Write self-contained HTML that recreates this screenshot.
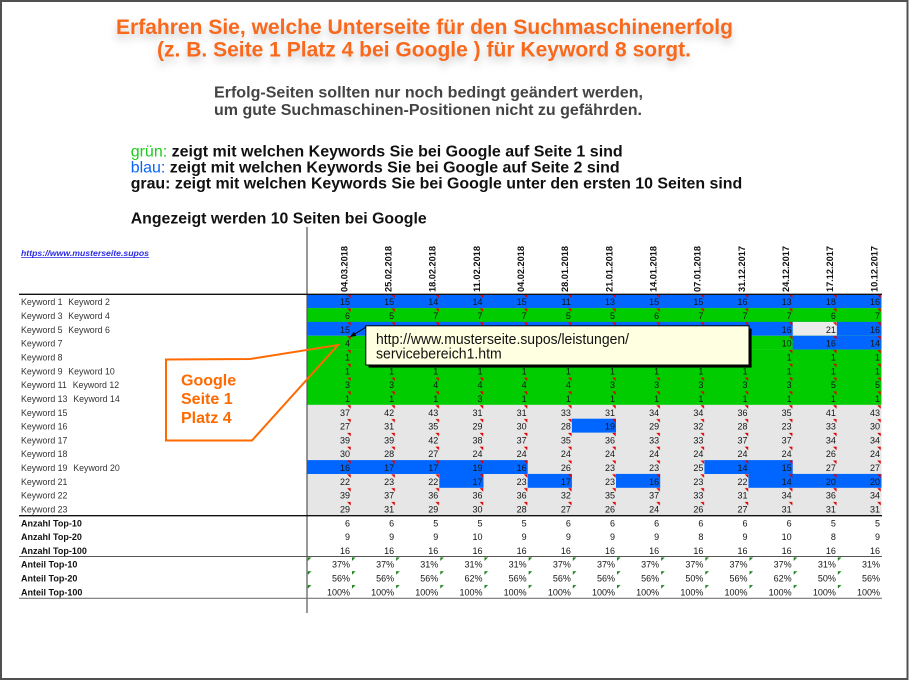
<!DOCTYPE html>
<html><head><meta charset="utf-8">
<style>
html,body{margin:0;padding:0;background:#fff;}
svg{display:block;}
</style></head>
<body>
<svg width="909" height="681" viewBox="0 0 909 681" xmlns="http://www.w3.org/2000/svg" font-family="'Liberation Sans', Arial, sans-serif">
<defs>
<filter id="sh" x="-5%" y="-60%" width="110%" height="240%">
<feGaussianBlur in="SourceAlpha" stdDeviation="4"/>
<feOffset dy="5" result="b"/>
<feFlood flood-color="#8a8a8a" flood-opacity="0.45"/>
<feComposite in2="b" operator="in"/>
<feMerge><feMergeNode/><feMergeNode in="SourceGraphic"/></feMerge>
</filter>
<pattern id="rm" patternUnits="userSpaceOnUse" x="306.8" y="294.3" width="44.17" height="13.82">
<polygon points="40.3,0.4 43.9,0.4 43.9,4" fill="#e00000"/>
</pattern>
<pattern id="gm" patternUnits="userSpaceOnUse" x="306.8" y="556.8" width="44.17" height="13.82">
<polygon points="1,0.6 4.6,0.6 1,4.2" fill="#1a7f1a"/>
</pattern>
</defs>
<rect x="0" y="0" width="909" height="681" fill="#fff"/>
<rect x="1" y="1" width="906.5" height="678" fill="none" stroke="#505050" stroke-width="2"/>

<!-- Title -->
<g filter="url(#sh)" fill="#f8691a" font-weight="bold" font-size="21">
<text x="116" y="34" textLength="617" lengthAdjust="spacingAndGlyphs">Erfahren Sie, welche Unterseite für den Suchmaschinenerfolg</text>
<text x="157" y="56.7" textLength="534" lengthAdjust="spacingAndGlyphs">(z. B. Seite 1 Platz 4 bei Google ) für Keyword 8 sorgt.</text>
</g>

<g font-weight="bold" font-size="16">
<text x="214" y="97.7" fill="#444" textLength="429" lengthAdjust="spacingAndGlyphs">Erfolg-Seiten sollten nur noch bedingt geändert werden,</text>
<text x="214" y="115" fill="#444" textLength="428" lengthAdjust="spacingAndGlyphs">um gute Suchmaschinen-Positionen nicht zu gefährden.</text>
<text x="130.7" y="156.7" fill="#111" textLength="492" lengthAdjust="spacingAndGlyphs"><tspan fill="#1ccc1c" font-weight="normal">grün:</tspan> zeigt mit welchen Keywords Sie bei Google auf Seite 1 sind</text>
<text x="130.7" y="172.7" fill="#111" textLength="489" lengthAdjust="spacingAndGlyphs"><tspan fill="#0a64f5" font-weight="normal">blau:</tspan> zeigt mit welchen Keywords Sie bei Google auf Seite 2 sind</text>
<text x="130.7" y="188.7" fill="#111" textLength="611.5" lengthAdjust="spacingAndGlyphs">grau: zeigt mit welchen Keywords Sie bei Google unter den ersten 10 Seiten sind</text>
<text x="130.7" y="223.3" fill="#111" textLength="296" lengthAdjust="spacingAndGlyphs">Angezeigt werden 10 Seiten bei Google</text>
</g>

<!-- URL -->
<text x="21" y="256" font-size="8" font-weight="bold" font-style="italic" fill="#2a2ae6" textLength="128" lengthAdjust="spacingAndGlyphs">https://www.musterseite.supos</text>
<line x1="21" y1="257.6" x2="149" y2="257.6" stroke="#2a2ae6" stroke-width="0.8"/>

<!-- Dates -->
<g font-size="9" font-weight="bold" fill="#111">
<text transform="translate(347.3,292) rotate(-90)" textLength="46" lengthAdjust="spacingAndGlyphs">04.03.2018</text>
<text transform="translate(391.5,292) rotate(-90)" textLength="46" lengthAdjust="spacingAndGlyphs">25.02.2018</text>
<text transform="translate(435.6,292) rotate(-90)" textLength="46" lengthAdjust="spacingAndGlyphs">18.02.2018</text>
<text transform="translate(479.8,292) rotate(-90)" textLength="46" lengthAdjust="spacingAndGlyphs">11.02.2018</text>
<text transform="translate(524,292) rotate(-90)" textLength="46" lengthAdjust="spacingAndGlyphs">04.02.2018</text>
<text transform="translate(568.2,292) rotate(-90)" textLength="46" lengthAdjust="spacingAndGlyphs">28.01.2018</text>
<text transform="translate(612.3,292) rotate(-90)" textLength="46" lengthAdjust="spacingAndGlyphs">21.01.2018</text>
<text transform="translate(656.5,292) rotate(-90)" textLength="46" lengthAdjust="spacingAndGlyphs">14.01.2018</text>
<text transform="translate(700.7,292) rotate(-90)" textLength="46" lengthAdjust="spacingAndGlyphs">07.01.2018</text>
<text transform="translate(744.8,292) rotate(-90)" textLength="46" lengthAdjust="spacingAndGlyphs">31.12.2017</text>
<text transform="translate(789,292) rotate(-90)" textLength="46" lengthAdjust="spacingAndGlyphs">24.12.2017</text>
<text transform="translate(833.2,292) rotate(-90)" textLength="46" lengthAdjust="spacingAndGlyphs">17.12.2017</text>
<text transform="translate(877.3,292) rotate(-90)" textLength="46" lengthAdjust="spacingAndGlyphs">10.12.2017</text>
</g>

<!-- Cell backgrounds -->
<rect x="306.8" y="294.3" width="574.7" height="13.9" fill="#0066ff"/>
<rect x="306.8" y="308.1" width="574.7" height="13.9" fill="#00cc00"/>
<rect x="306.8" y="321.9" width="574.7" height="13.9" fill="#0066ff"/>
<rect x="792.7" y="321.9" width="44.2" height="13.9" fill="#ebebeb"/>
<rect x="306.8" y="335.8" width="574.7" height="13.9" fill="#00cc00"/>
<rect x="792.7" y="335.8" width="88.8" height="13.9" fill="#0066ff"/>
<rect x="306.8" y="349.6" width="574.7" height="55.3" fill="#00cc00"/>
<rect x="306.8" y="404.9" width="574.7" height="110.7" fill="#e6e6e6"/>
<rect x="571.9" y="418.7" width="44.1" height="13.9" fill="#0066ff"/>
<rect x="306.8" y="460.1" width="220.9" height="13.9" fill="#0066ff"/>
<rect x="704.4" y="460.1" width="88.3" height="13.9" fill="#0066ff"/>
<rect x="439.3" y="473.9" width="44.2" height="13.9" fill="#0066ff"/>
<rect x="527.7" y="473.9" width="44.2" height="13.9" fill="#0066ff"/>
<rect x="616" y="473.9" width="44.2" height="13.9" fill="#0066ff"/>
<rect x="748.5" y="473.9" width="133" height="13.9" fill="#0066ff"/>

<!-- markers -->
<rect x="306.8" y="294.3" width="574.7" height="221.1" fill="url(#rm)"/>
<rect x="306.8" y="556.8" width="574.2" height="41.5" fill="url(#gm)"/>

<!-- lines -->
<line x1="307" y1="227" x2="307" y2="613" stroke="#555" stroke-width="1.2"/>
<line x1="19" y1="294.3" x2="882" y2="294.3" stroke="#111" stroke-width="1.3"/>
<line x1="19" y1="515.7" x2="882" y2="515.7" stroke="#111" stroke-width="1.3"/>
<line x1="19" y1="556.5" x2="882" y2="556.5" stroke="#555" stroke-width="1.1"/>
<line x1="19" y1="598.3" x2="882" y2="598.3" stroke="#777" stroke-width="1.1"/>

<!-- row labels -->
<g font-size="8.8" fill="#333">
<text x="21" y="305.2">Keyword 1</text><text x="68.3" y="305.2">Keyword 2</text>
<text x="21" y="319">Keyword 3</text><text x="68.3" y="319">Keyword 4</text>
<text x="21" y="332.8">Keyword 5</text><text x="68.3" y="332.8">Keyword 6</text>
<text x="21" y="346.7">Keyword 7</text>
<text x="21" y="360.5">Keyword 8</text>
<text x="21" y="374.3">Keyword 9</text><text x="68.3" y="374.3">Keyword 10</text>
<text x="21" y="388.1">Keyword 11</text><text x="72.7" y="388.1">Keyword 12</text>
<text x="21" y="401.9">Keyword 13</text><text x="73.3" y="401.9">Keyword 14</text>
<text x="21" y="415.8">Keyword 15</text>
<text x="21" y="429.6">Keyword 16</text>
<text x="21" y="443.4">Keyword 17</text>
<text x="21" y="457.2">Keyword 18</text>
<text x="21" y="471">Keyword 19</text><text x="73.3" y="471">Keyword 20</text>
<text x="21" y="484.8">Keyword 21</text>
<text x="21" y="498.7">Keyword 22</text>
<text x="21" y="512.5">Keyword 23</text>
</g>
<g font-size="9" font-weight="bold" fill="#111">
<text x="21" y="526.3">Anzahl Top-10</text>
<text x="21" y="540.1">Anzahl Top-20</text>
<text x="21" y="553.9">Anzahl Top-100</text>
<text x="21" y="567.7">Anteil Top-10</text>
<text x="21" y="581.6">Anteil Top-20</text>
<text x="21" y="595.4">Anteil Top-100</text>
</g>

<!-- numbers -->
<g font-size="9" fill="#151515" text-anchor="end">
<g transform="translate(0,305.2)"><text x="350">15</text><text x="394.2">15</text><text x="438.3">14</text><text x="482.5">14</text><text x="526.7">15</text><text x="570.9">11</text><text x="615">13</text><text x="659.2">15</text><text x="703.4">15</text><text x="747.5">16</text><text x="791.7">13</text><text x="835.9">18</text><text x="880">16</text></g>
<g transform="translate(0,319)"><text x="350">6</text><text x="394.2">5</text><text x="438.3">7</text><text x="482.5">7</text><text x="526.7">7</text><text x="570.9">5</text><text x="615">5</text><text x="659.2">6</text><text x="703.4">7</text><text x="747.5">7</text><text x="791.7">7</text><text x="835.9">6</text><text x="880">7</text></g>
<g transform="translate(0,332.8)"><text x="350">15</text><text x="394.2">15</text><text x="438.3">14</text><text x="482.5">15</text><text x="526.7">15</text><text x="570.9">15</text><text x="615">15</text><text x="659.2">15</text><text x="703.4">15</text><text x="747.5">15</text><text x="791.7">16</text><text x="835.9">21</text><text x="880">16</text></g>
<g transform="translate(0,346.7)"><text x="350">4</text><text x="394.2">4</text><text x="438.3">4</text><text x="482.5">4</text><text x="526.7">4</text><text x="570.9">4</text><text x="615">4</text><text x="659.2">4</text><text x="703.4">4</text><text x="747.5">4</text><text x="791.7">10</text><text x="835.9">16</text><text x="880">14</text></g>
<g transform="translate(0,360.5)"><text x="350">1</text><text x="394.2">1</text><text x="438.3">1</text><text x="482.5">1</text><text x="526.7">1</text><text x="570.9">1</text><text x="615">1</text><text x="659.2">1</text><text x="703.4">1</text><text x="747.5">1</text><text x="791.7">1</text><text x="835.9">1</text><text x="880">1</text></g>
<g transform="translate(0,374.3)"><text x="350">1</text><text x="394.2">1</text><text x="438.3">1</text><text x="482.5">1</text><text x="526.7">1</text><text x="570.9">1</text><text x="615">1</text><text x="659.2">1</text><text x="703.4">1</text><text x="747.5">1</text><text x="791.7">1</text><text x="835.9">1</text><text x="880">1</text></g>
<g transform="translate(0,388.1)"><text x="350">3</text><text x="394.2">3</text><text x="438.3">4</text><text x="482.5">4</text><text x="526.7">4</text><text x="570.9">4</text><text x="615">3</text><text x="659.2">3</text><text x="703.4">3</text><text x="747.5">3</text><text x="791.7">3</text><text x="835.9">5</text><text x="880">5</text></g>
<g transform="translate(0,401.9)"><text x="350">1</text><text x="394.2">1</text><text x="438.3">1</text><text x="482.5">3</text><text x="526.7">1</text><text x="570.9">1</text><text x="615">1</text><text x="659.2">1</text><text x="703.4">1</text><text x="747.5">1</text><text x="791.7">1</text><text x="835.9">1</text><text x="880">1</text></g>
<g transform="translate(0,415.8)"><text x="350">37</text><text x="394.2">42</text><text x="438.3">43</text><text x="482.5">31</text><text x="526.7">31</text><text x="570.9">33</text><text x="615">31</text><text x="659.2">34</text><text x="703.4">34</text><text x="747.5">36</text><text x="791.7">35</text><text x="835.9">41</text><text x="880">43</text></g>
<g transform="translate(0,429.6)"><text x="350">27</text><text x="394.2">31</text><text x="438.3">35</text><text x="482.5">29</text><text x="526.7">30</text><text x="570.9">28</text><text x="615">19</text><text x="659.2">29</text><text x="703.4">32</text><text x="747.5">28</text><text x="791.7">23</text><text x="835.9">33</text><text x="880">30</text></g>
<g transform="translate(0,443.4)"><text x="350">39</text><text x="394.2">39</text><text x="438.3">42</text><text x="482.5">38</text><text x="526.7">37</text><text x="570.9">35</text><text x="615">36</text><text x="659.2">33</text><text x="703.4">33</text><text x="747.5">37</text><text x="791.7">37</text><text x="835.9">34</text><text x="880">34</text></g>
<g transform="translate(0,457.2)"><text x="350">30</text><text x="394.2">28</text><text x="438.3">27</text><text x="482.5">24</text><text x="526.7">24</text><text x="570.9">24</text><text x="615">24</text><text x="659.2">24</text><text x="703.4">24</text><text x="747.5">24</text><text x="791.7">24</text><text x="835.9">26</text><text x="880">24</text></g>
<g transform="translate(0,471)"><text x="350">16</text><text x="394.2">17</text><text x="438.3">17</text><text x="482.5">19</text><text x="526.7">16</text><text x="570.9">26</text><text x="615">23</text><text x="659.2">23</text><text x="703.4">25</text><text x="747.5">14</text><text x="791.7">15</text><text x="835.9">27</text><text x="880">27</text></g>
<g transform="translate(0,484.8)"><text x="350">22</text><text x="394.2">23</text><text x="438.3">22</text><text x="482.5">17</text><text x="526.7">23</text><text x="570.9">17</text><text x="615">23</text><text x="659.2">16</text><text x="703.4">23</text><text x="747.5">22</text><text x="791.7">14</text><text x="835.9">20</text><text x="880">20</text></g>
<g transform="translate(0,498.7)"><text x="350">39</text><text x="394.2">37</text><text x="438.3">36</text><text x="482.5">36</text><text x="526.7">36</text><text x="570.9">32</text><text x="615">35</text><text x="659.2">37</text><text x="703.4">33</text><text x="747.5">31</text><text x="791.7">34</text><text x="835.9">36</text><text x="880">34</text></g>
<g transform="translate(0,512.5)"><text x="350">29</text><text x="394.2">31</text><text x="438.3">29</text><text x="482.5">30</text><text x="526.7">28</text><text x="570.9">27</text><text x="615">26</text><text x="659.2">24</text><text x="703.4">26</text><text x="747.5">27</text><text x="791.7">31</text><text x="835.9">31</text><text x="880">31</text></g>
<g transform="translate(0,526.3)"><text x="350">6</text><text x="394.2">6</text><text x="438.3">5</text><text x="482.5">5</text><text x="526.7">5</text><text x="570.9">6</text><text x="615">6</text><text x="659.2">6</text><text x="703.4">6</text><text x="747.5">6</text><text x="791.7">6</text><text x="835.9">5</text><text x="880">5</text></g>
<g transform="translate(0,540.1)"><text x="350">9</text><text x="394.2">9</text><text x="438.3">9</text><text x="482.5">10</text><text x="526.7">9</text><text x="570.9">9</text><text x="615">9</text><text x="659.2">9</text><text x="703.4">8</text><text x="747.5">9</text><text x="791.7">10</text><text x="835.9">8</text><text x="880">9</text></g>
<g transform="translate(0,553.9)"><text x="350">16</text><text x="394.2">16</text><text x="438.3">16</text><text x="482.5">16</text><text x="526.7">16</text><text x="570.9">16</text><text x="615">16</text><text x="659.2">16</text><text x="703.4">16</text><text x="747.5">16</text><text x="791.7">16</text><text x="835.9">16</text><text x="880">16</text></g>
<g transform="translate(0,567.7)"><text x="350">37%</text><text x="394.2">37%</text><text x="438.3">31%</text><text x="482.5">31%</text><text x="526.7">31%</text><text x="570.9">37%</text><text x="615">37%</text><text x="659.2">37%</text><text x="703.4">37%</text><text x="747.5">37%</text><text x="791.7">37%</text><text x="835.9">31%</text><text x="880">31%</text></g>
<g transform="translate(0,581.6)"><text x="350">56%</text><text x="394.2">56%</text><text x="438.3">56%</text><text x="482.5">62%</text><text x="526.7">56%</text><text x="570.9">56%</text><text x="615">56%</text><text x="659.2">56%</text><text x="703.4">50%</text><text x="747.5">56%</text><text x="791.7">62%</text><text x="835.9">50%</text><text x="880">56%</text></g>
<g transform="translate(0,595.4)"><text x="350">100%</text><text x="394.2">100%</text><text x="438.3">100%</text><text x="482.5">100%</text><text x="526.7">100%</text><text x="570.9">100%</text><text x="615">100%</text><text x="659.2">100%</text><text x="703.4">100%</text><text x="747.5">100%</text><text x="791.7">100%</text><text x="835.9">100%</text><text x="880">100%</text></g>
</g>

<!-- comment box -->
<rect x="368.6" y="328.6" width="383" height="39" fill="#000"/>
<rect x="365.8" y="325.8" width="383.2" height="39.2" fill="#ffffe1" stroke="#000" stroke-width="1"/>
<g font-size="14.5" fill="#111">
<text x="376" y="344" textLength="253" lengthAdjust="spacingAndGlyphs">http://www.musterseite.supos/leistungen/</text>
<text x="376" y="358.3" textLength="125.7" lengthAdjust="spacingAndGlyphs">servicebereich1.htm</text>
</g>
<line x1="366" y1="327" x2="354" y2="334.5" stroke="#000" stroke-width="1"/>
<polygon points="350,337 356.4,335.9 353.8,331.7" fill="#000"/>

<!-- orange callout -->
<polygon points="166,359.5 250,359 338,345 252,440.5 166,440.5" fill="none" stroke="#ff6a00" stroke-width="2" stroke-linejoin="miter"/>
<g font-size="16" font-weight="bold" fill="#ff6a00">
<text x="181" y="385.3">Google</text>
<text x="181" y="404">Seite 1</text>
<text x="181" y="423">Platz 4</text>
</g>
</svg>
</body></html>
